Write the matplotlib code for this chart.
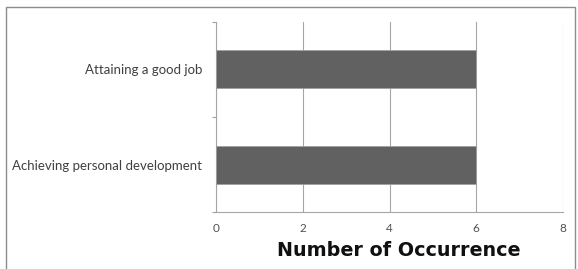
import matplotlib.pyplot as plt
from matplotlib.patches import Rectangle

categories = ['Achieving personal development', 'Attaining a good job']
values = [6, 6]
x_ticks = [0, 2, 4, 6, 8]

plt.rcParams['font.family'] = ['Lato', 'DejaVu Sans']

W, H = 578, 269
fig = plt.figure(figsize=(W / 100, H / 100), dpi=100)
ax = fig.add_axes([216 / W, 1 - 212 / H, (563 - 216) / W, (212 - 22) / H])

# frame around the whole picture
fig.patches.append(Rectangle((6 / W, -0.05), 569 / W, 1 - 7 / H + 0.05,
                             transform=fig.transFigure, fill=False,
                             edgecolor='#8c8c8c', linewidth=1.0))

ax.barh(range(len(categories)), values, height=0.4, color='#616161',
        edgecolor='#a0a0a0', linewidth=0.6, zorder=3)

ax.set_xlim(0, 8)
ax.set_ylim(-0.5, len(categories) - 0.5)
ax.set_xticks(x_ticks)
ax.set_yticks(range(len(categories)))
ax.set_yticklabels(categories, fontsize=9.5, color='#404040')
ax.set_yticks([-0.5, 0.5, 1.5], minor=True)
ax.tick_params(axis='y', which='major', length=0, pad=10)
ax.tick_params(axis='y', which='minor', length=3, color='#a0a0a0', width=0.8)
ax.tick_params(axis='x', length=0, labelsize=8.5, labelcolor='#505050', pad=8)

ax.grid(axis='x', color='#a6a6a6', linewidth=0.8, zorder=0)
for s in ['top', 'right']:
    ax.spines[s].set_visible(False)
for s in ['left', 'bottom']:
    ax.spines[s].set_color('#a6a6a6')
    ax.spines[s].set_linewidth(0.8)

fig.text(399 / W, 1 - 251 / H, 'Number of Occurrence', fontsize=13.8,
         fontweight='bold', family='DejaVu Sans', color='#101010',
         ha='center', va='center')

fig.savefig('out.png', dpi=100)
